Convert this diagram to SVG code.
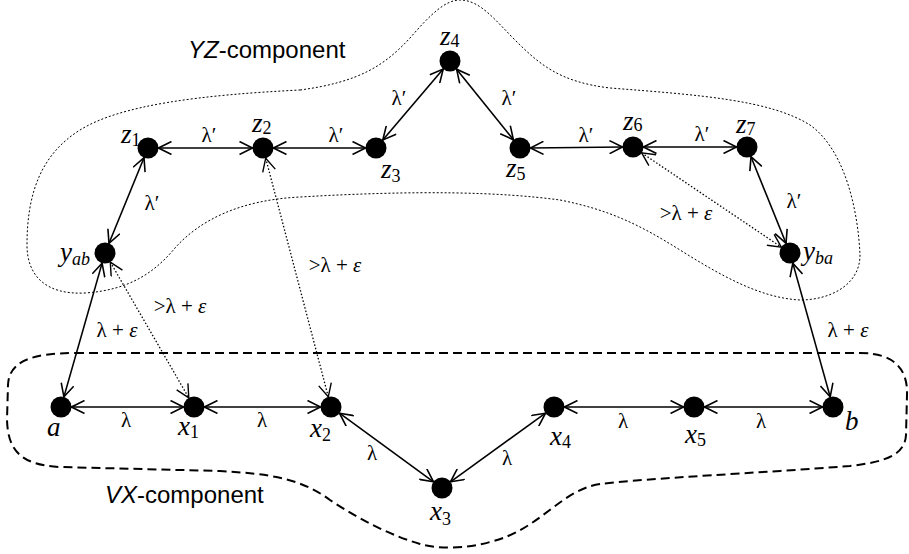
<svg xmlns="http://www.w3.org/2000/svg" width="909" height="554" viewBox="0 0 909 554">
<style>
.node{fill:#000}
.e{stroke:#000;stroke-width:1.6;fill:none;marker-start:url(#ah);marker-end:url(#ah)}
.d{stroke:#000;stroke-width:1.3;stroke-dasharray:1.5,2;fill:none;marker-start:url(#ah2);marker-end:url(#ah2)}
.nl{font-style:italic;font-size:27px;fill:#000}
.sub{font-style:normal;font-size:18px}
.subi{font-style:italic;font-size:18px}
.el{font-size:21px;fill:#000;text-anchor:middle}
.it{font-style:italic}
.comp{font-size:24px;fill:#000}
</style>
<defs>
<marker id="ah" viewBox="0 0 16 14" refX="14" refY="7" markerWidth="16" markerHeight="14" markerUnits="userSpaceOnUse" orient="auto-start-reverse">
<path d="M1,0.5 L14,7 L1,13.5" fill="none" stroke="#000" stroke-width="1.6"/>
</marker>
<marker id="ah2" viewBox="0 0 16 14" refX="14" refY="7" markerWidth="16" markerHeight="14" markerUnits="userSpaceOnUse" orient="auto-start-reverse">
<path d="M1,0.5 L14,7 L1,13.5" fill="none" stroke="#000" stroke-width="1.4"/>
</marker>
</defs>

<g id="yz-component">
<path d="M300,90 C360,82 385,65 410,38 C430,15 445,0 460,0 C480,0 495,20 515,40 C540,65 560,82 610,88 C700,95 770,100 810,125 C845,150 858,210 860,255 C860,285 830,300 800,300 C760,298 720,275 680,250 C640,225 610,210 560,200 C500,192 420,190 300,197 C240,200 200,220 175,248 C155,272 130,290 85,293 C45,295 27,275 27,245 C27,195 40,155 80,130 C120,105 200,95 300,90 Z" fill="none" stroke="#000" stroke-width="1" stroke-dasharray="2,2"/>
<text class="comp" font-family="Liberation Sans, Arial, sans-serif" x="188" y="58"><tspan font-style="italic">YZ</tspan>-component</text>
</g>

<g id="vx-component">
<path d="M75,353 L860,353 C895,353 908,370 907,395 L906,435 C905,455 885,462 850,466 C760,473 650,478 600,484 C560,490 540,530 490,542 C470,548 440,550 420,544 C390,535 360,520 330,500 C300,478 270,474 220,471 L60,467 C20,465 8,450 7,420 L8,385 C9,362 30,353 75,353 Z" fill="none" stroke="#000" stroke-width="2" stroke-dasharray="9,5"/>
<text class="comp" font-family="Liberation Sans, Arial, sans-serif" x="105" y="503"><tspan font-style="italic">VX</tspan>-component</text>
</g>

<g id="connectors">
<line class="e" x1="158.5" y1="148" x2="252.5" y2="148"/>
<line class="e" x1="273.5" y1="148" x2="365.5" y2="148"/>
<line class="e" x1="382.8" y1="140" x2="443.2" y2="69"/>
<line class="e" x1="456.6" y1="69.2" x2="513.4" y2="139.8"/>
<line class="e" x1="530.5" y1="148" x2="622.5" y2="147"/>
<line class="e" x1="643.5" y1="147" x2="736.5" y2="147"/>
<line class="e" x1="144" y1="157.7" x2="109" y2="243.3"/>
<line class="e" x1="751" y1="156.7" x2="786" y2="243.3"/>
<line class="e" x1="102.1" y1="263.1" x2="63.9" y2="396.9"/>
<line class="e" x1="792.8" y1="263.1" x2="830.2" y2="396.9"/>
<line class="e" x1="71.5" y1="407" x2="183.5" y2="407"/>
<line class="e" x1="204.5" y1="407" x2="320.5" y2="407"/>
<line class="e" x1="339.5" y1="413.2" x2="433.5" y2="481.8"/>
<line class="e" x1="450.5" y1="481.8" x2="545.5" y2="413.2"/>
<line class="e" x1="564.5" y1="407" x2="683.5" y2="407"/>
<line class="e" x1="704.5" y1="407" x2="822.5" y2="407"/>
<line class="d" x1="110.3" y1="262.1" x2="188.8" y2="397.9"/>
<line class="d" x1="265.7" y1="158.2" x2="328.3" y2="396.8"/>
<line class="d" x1="641.7" y1="152.9" x2="781.3" y2="247.1"/>
<g font-family="Liberation Serif, Times New Roman, serif">
<text class="el" x="209" y="142">λ′</text>
<text class="el" x="336" y="142">λ′</text>
<text class="el" x="399" y="105">λ′</text>
<text class="el" x="509" y="105">λ′</text>
<text class="el" x="586" y="142">λ′</text>
<text class="el" x="702" y="141">λ′</text>
<text class="el" x="152" y="210">λ′</text>
<text class="el" x="794" y="208">λ′</text>
<text class="el" x="126" y="427">λ</text>
<text class="el" x="262" y="427">λ</text>
<text class="el" x="372" y="460">λ</text>
<text class="el" x="507" y="465">λ</text>
<text class="el" x="623" y="428">λ</text>
<text class="el" x="761" y="428">λ</text>
<text class="el" x="117" y="337">λ + <tspan class="it">ε</tspan></text>
<text class="el" x="848" y="337">λ + <tspan class="it">ε</tspan></text>
<text class="el" x="180" y="313">&gt;λ + <tspan class="it">ε</tspan></text>
<text class="el" x="335" y="272">&gt;λ + <tspan class="it">ε</tspan></text>
<text class="el" x="686" y="220">&gt;λ + <tspan class="it">ε</tspan></text>
</g>
</g>

<g font-family="Liberation Serif, Times New Roman, serif">
<g id="z1"><circle class="node" cx="148" cy="148" r="10.5"/><text class="nl" x="121" y="143">z<tspan class="sub" dy="3">1</tspan></text></g>
<g id="z2"><circle class="node" cx="263" cy="148" r="10.5"/><text class="nl" x="252" y="132">z<tspan class="sub" dy="2">2</tspan></text></g>
<g id="z3"><circle class="node" cx="376" cy="148" r="10.5"/><text class="nl" x="381" y="178">z<tspan class="sub" dy="4">3</tspan></text></g>
<g id="z4"><circle class="node" cx="450" cy="61" r="10.5"/><text class="nl" x="440" y="45">z<tspan class="sub" dy="2">4</tspan></text></g>
<g id="z5"><circle class="node" cx="520" cy="148" r="10.5"/><text class="nl" x="506" y="177">z<tspan class="sub" dy="3">5</tspan></text></g>
<g id="z6"><circle class="node" cx="633" cy="147" r="10.5"/><text class="nl" x="623" y="130">z<tspan class="sub" dy="1">6</tspan></text></g>
<g id="z7"><circle class="node" cx="747" cy="147" r="10.5"/><text class="nl" x="736" y="133">z<tspan class="sub" dy="2">7</tspan></text></g>
<g id="yab"><circle class="node" cx="105" cy="253" r="10.5"/><text class="nl" x="60" y="261">y<tspan class="subi" dy="4">ab</tspan></text></g>
<g id="yba"><circle class="node" cx="790" cy="253" r="10.5"/><text class="nl" x="803" y="260">y<tspan class="subi" dy="4">ba</tspan></text></g>
<g id="a"><circle class="node" cx="61" cy="407" r="10.5"/><text class="nl" x="47" y="436">a</text></g>
<g id="x1"><circle class="node" cx="194" cy="407" r="10.5"/><text class="nl" x="178" y="435">x<tspan class="sub" dy="3">1</tspan></text></g>
<g id="x2"><circle class="node" cx="331" cy="407" r="10.5"/><text class="nl" x="310" y="437">x<tspan class="sub" dy="4">2</tspan></text></g>
<g id="x3"><circle class="node" cx="442" cy="488" r="10.5"/><text class="nl" x="430" y="520">x<tspan class="sub" dy="5">3</tspan></text></g>
<g id="x4"><circle class="node" cx="554" cy="407" r="10.5"/><text class="nl" x="550" y="445">x<tspan class="sub" dy="3">4</tspan></text></g>
<g id="x5"><circle class="node" cx="694" cy="407" r="10.5"/><text class="nl" x="685" y="443">x<tspan class="sub" dy="3">5</tspan></text></g>
<g id="b"><circle class="node" cx="833" cy="407" r="10.5"/><text class="nl" x="845" y="430">b</text></g>
</g>
</svg>
